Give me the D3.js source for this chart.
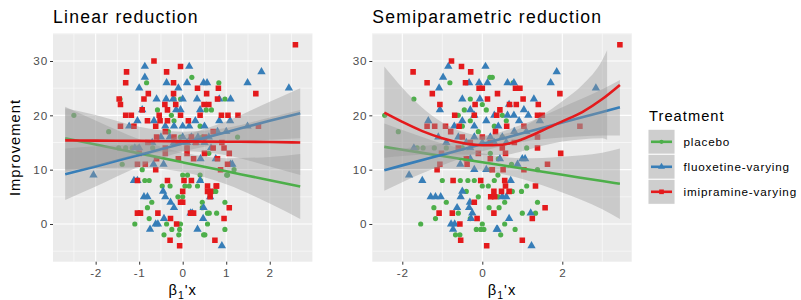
<!DOCTYPE html>
<html>
<head>
<meta charset="utf-8">
<script src="https://cdn.jsdelivr.net/npm/d3@7"></script>
<style>
  body { margin: 0; background: #fff; }
  text { font-family: "Liberation Sans", Arial, Helvetica, sans-serif; letter-spacing: 0.07em; }
</style>
</head>
<body>
<div id="chart"></div>
<script>
// treatment groups and Set1 colours
const groups = ["placebo", "fluoxetine-varying", "imipramine-varying"];
const groupColors = ["#4DAF4A", "#377EB8", "#E41A1C"];

// tick labels
const yTicks = [0, 10, 20, 30];
const yMinor = [-5, 5, 15, 25, 35];
const linTicks = [-2, -1, 0, 1, 2];
const linMinor = [-2.5, -1.5, -0.5, 0.5, 1.5, 2.5];
const semiTicks = [-2, 0, 2];
const semiMinor = [-1, 1, 3];

// ---- linear reduction: points [beta1'x, improvement]
const placeboLin = [
  [-2.5,20],[-1.7,17],[-1.44,23],[-1.13,18],[-0.83,26],[0.83,26],[0.21,27],[-0.05,23],[-0.2,23],[0.97,23],
  [0.66,21],[-0.58,21],[0.54,21],[-0.26,20],[-0.2,19],[0.4,18],[-0.33,17],[1.26,16],[-0.05,16],[0.45,16],
  [-1.47,14],[-1.31,14],[-1.16,14],[-1.03,14],[-0.69,14],[0.1,14],[0.6,13],
  [-1.39,11],[-0.93,10],[-0.87,8],[-0.77,8],[-0.47,7],[-0.29,7],[0,9],[0.11,9],[0.4,9],[0.05,7],[0.15,7],
  [0.34,7],[0.41,8],[0.76,6],[0.69,6],[-0.11,5],[0,5],[-0.71,4],[-0.81,3],[-0.77,1],[-1.1,0],[-0.37,0],
  [-0.05,0],[-0.25,-1],[-0.07,-1],[-0.43,-2],[-0.09,-2],[0.45,3],[0.45,4],[0.57,2],[0.78,2],[0.61,2],
  [0.48,-2],[0.97,-1],[0.97,4],[1.03,9],[1.18,10],[1.01,9],[0.51,-2],[0.57,0]
];
const fluoxLin = [
  [-0.87,29],[0.15,29],[-0.87,27],[0.1,26],[-0.37,26],[0.48,26],[0.56,26],[-1.0,25],[-0.1,25],[1.49,26],
  [1.81,28],[2.44,25],[-0.6,23],[-0.38,23],[-0.22,23],[0.0,23],[0.33,23],[0.84,23],[1.1,23],[-0.15,21],
  [-0.05,21],[0.4,21],[-0.93,21],[-1.04,19],[-0.66,19],[0.29,19],[0.84,19],[1.09,19],[-1.23,18],[1.49,18],
  [-0.4,18],[-0.2,18],[0.0,18],[0.15,18],[0.5,18],[-0.5,16],[-0.3,16],[0.0,16],[0.2,16],[0.35,16],
  [0.6,16],[0.8,17],[1.0,17],[-0.7,15],[-0.2,15],[0.1,15],[0.3,15],[0.5,15],[-1.1,14],[-1.0,14],[0.65,14],
  [-2.05,9],[-1.12,8],[-1.04,8],[-0.67,11],[-0.44,11],[0.41,12],[1.1,11],[0.76,12],[1.14,11],
  [-0.89,5],[-0.81,5],[-0.45,6],[-0.4,5],[-0.28,4],[-0.2,3],[-0.75,-1],[-0.62,0],[-0.57,0],[-0.43,1],
  [0.18,2],[0.22,2],[0.34,-1],[0.47,1],[0.48,3],[0.4,8],[0.63,5],[0.9,-4]
];
const imipLin = [
  [-0.66,30],[-1.29,28],[-0.37,28],[-0.05,29],[-1.31,26],[-0.21,26],[0.34,25],[-0.79,24],[-0.21,24],[0.55,24],
  [-0.89,23],[-1.43,22],[-1.46,23],[-0.41,22],[-0.16,22],[0.49,22],[0.6,22],[0.8,23],[-0.93,21],[-0.35,21],
  [-1.18,20],[-1.31,20],[-0.54,20],[-0.05,20],[0.4,20],[0.13,19],[-0.81,19],[-1.43,18],[-1.12,18],[-0.62,18],
  [-0.52,19],[-0.35,19],[2.59,33],[1.68,24],[0.82,25],[1.27,20],[1.04,20],[0.89,20],[1.74,18],
  [-0.4,17],[-0.6,16],[-0.2,16],[0.2,16],[0.5,16],[0.7,17],[-0.8,15],[-0.1,15],[0.3,15],[0.9,15],
  [-0.4,14],[0.1,14],[0.7,14],[0.95,14],[1.07,13],[-1.0,13],[-0.4,13],[0.1,13],[0.5,13],[0.8,12],
  [-0.6,12],[-0.1,12],[0.25,12],[1.03,11],[0.87,10],[-1.04,11],[-0.86,11],[-0.62,10],[-1.04,8],[-0.35,8],
  [0.03,8],[0.2,8],[0,6],[-0.05,4],[0,4],[0.57,7],[0.64,6],[0.57,6],[0.78,7],[0.63,5],[0.77,7],
  [-1.04,2],[-0.97,2],[-0.57,2],[-0.28,1],[-0.14,0],[-0.29,-3],[-0.07,-4],[0.18,2],[0.25,2],[0.74,-3],
  [0.95,1],[1.07,3]
];

// linear fits with confidence bands
const linFitX = [-2.7, -2, -1, 0, 1, 2, 2.7];
const placeboLinFit = [15.8, 14.65, 13.0, 11.35, 9.7, 8.05, 6.9];
const placeboLinLo = [10.0, 10.25, 10.4, 9.55, 7.3, 3.75, 0.9];
const placeboLinHi = [21.6, 19.05, 15.6, 13.15, 12.1, 12.35, 12.9];
const fluoxLinFit = [9.15, 10.6, 12.7, 14.8, 16.9, 19.0, 20.4];
const fluoxLinLo = [4.4, 6.9, 10.6, 13.3, 14.9, 15.5, 15.8];
const fluoxLinHi = [13.9, 14.3, 14.8, 16.3, 18.9, 22.5, 25.0];
const imipLinFit = [15.4, 15.35, 15.3, 15.2, 15.15, 15.1, 15.0];
const imipLinLo = [9.6, 10.65, 12.7, 13.4, 12.65, 10.6, 9.0];
const imipLinHi = [21.3, 20.05, 17.9, 17.0, 17.65, 19.6, 21.0];

// ---- semiparametric reduction: points [beta1'x, improvement]
const placeboSemi = [
  [-2.44,20],[-1.71,23],[-2.1,17],[-0.81,26],[0.19,27],[0.77,26],[0.25,27],[-0.3,23],[0.0,22],[-0.45,21],
  [0.1,21],[0.5,20],[-0.6,20],[-0.3,19],[0.6,19],[-0.5,18],[0.3,18],[-0.1,17],[0.5,16],[1.11,14],
  [-1.63,14],[-1.48,14],[-1.2,14],[-0.9,14],[-0.5,14],[0.2,13],[0.4,12],
  [0.73,11],[1.38,10],[0.39,9],[-0.36,8],[-1.0,8],[-0.55,8],[-0.2,8],[0.0,7],[0.15,7],[0.3,8],[1.11,7],
  [0.98,6],[0.75,6],[0.4,5],[-0.1,5],[-1.21,3],[-1.17,1],[-1.54,0],[-0.67,-2],[-0.56,-2],[-0.04,-1],
  [0.04,-1],[0.0,0],[0.17,3],[0.56,4],[0.42,3],[1.38,4],[1.0,2],[1.33,2],[0.82,-1],[0.46,-2],[0.56,0],
  [-0.6,2],[-0.3,1],[-0.15,-1],[-0.9,4],[-0.4,6],[0.2,10]
];
const fluoxSemi = [
  [-0.85,29],[0.08,29],[-0.98,27],[-0.33,26],[-0.08,26],[0.13,26],[0.63,26],[0.79,26],[1.71,26],[1.86,28],
  [2.84,25],[-1.08,25],[-0.5,23],[-0.06,23],[1.29,23],[0.67,22],[-1.06,21],[-0.3,21],[1.04,21],[1.15,20],
  [0.63,20],[0.79,20],[-0.2,20],[0.3,20],[-1.35,19],[-0.5,19],[0.1,19],[0.92,19],[1.44,19],[-0.7,18],
  [-0.2,18],[0.4,18],[-1.1,16],[-0.6,16],[-0.2,16],[0.2,16],[0.5,16],[0.8,17],[1.1,17],[-0.9,15],
  [-0.4,15],[0.0,15],[0.3,15],[0.6,15],[-1.71,14],[-0.3,14],
  [-1.83,9],[-1.5,8],[-0.55,11],[-0.3,12],[0.44,12],[1.0,12],[1.07,12],[0.88,11],[0.71,8],[-0.2,10],[0.1,10],
  [-1.29,5],[-1.17,5],[-1.04,5],[-0.54,5],[-0.5,6],[-0.31,4],[-0.63,3],[-0.33,3],[-0.25,2],[-0.28,1],
  [-0.78,0],[-0.69,0],[-0.73,-1],[0.38,-1],[0.67,1],[1.21,2],[0.36,-1],[1.23,-4],[0.5,5],[0.6,5]
];
const imipSemi = [
  [-0.77,30],[-1.73,28],[-0.52,29],[-0.29,28],[-1.38,26],[-0.42,26],[-1.25,24],[0.0,25],[-0.08,25],[0.83,25],
  [0.94,25],[1.94,24],[0.38,24],[1.02,23],[0.13,23],[-1.06,22],[-0.18,22],[1.4,22],[0.68,22],[0.85,22],
  [0.44,21],[-0.69,20],[0.36,20],[1.38,20],[1.5,20],[-0.2,20],[-1.38,18],[-1.19,18],[-0.92,18],[-0.58,18],
  [0.61,18],[1.04,18],[2.44,18],[3.44,33],[-0.79,17],[0.33,17],[-0.5,16],[0.0,16],[1.38,16],[-0.3,15],
  [0.2,15],[0.8,15],[0.5,14],[1.38,14],[-0.6,14],[-1.02,13],[1.96,13],[0.58,13],[-0.1,13],[-0.4,12],[0.2,12],
  [-1.06,11],[-1.13,10],[-0.38,11],[1.63,11],[0.25,10],[0.52,10],[1.04,10],[-0.73,8],[-0.04,8],[0.56,8],
  [1.33,7],[0.29,6],[0.48,6],[0.67,6],[0.58,7],[0.21,5],[0.31,5],[0.29,2],[1.57,3],[1.25,1],[1.0,-3],
  [-1.08,2],[-0.75,2],[-0.13,1],[-0.56,0],[0.11,-4],[-0.54,-3],[-0.2,4]
];

// semiparametric fits with confidence bands
const semiFitX = [-2.45, -2, -1, 0, 1, 2, 3, 3.44];
const placeboSemiFit = [14.2, 13.68, 12.52, 11.37, 10.21, 9.06, 7.9, 7.4];
const placeboSemiLo = [9.9, 10.1, 10.2, 9.8, 8.3, 5.8, 2.7, 0.9];
const placeboSemiHi = [18.5, 17.3, 14.8, 13.0, 12.1, 12.4, 13.1, 13.9];
const fluoxSemiFit = [9.9, 10.79, 12.76, 14.73, 16.7, 18.67, 20.63, 21.5];
const fluoxSemiLo = [6.1, 7.7, 10.8, 13.4, 15.1, 15.9, 16.3, 16.3];
const fluoxSemiHi = [13.7, 13.9, 14.8, 16.0, 18.3, 21.5, 24.8, 26.5];
const imipCurveX = [-2.45, -2, -1.5, -1, -0.5, 0, 0.5, 1, 1.5, 2, 2.5, 3, 3.44];
const imipSemiFit = [20.5, 18.8, 17.1, 15.8, 14.9, 14.5, 14.6, 15.6, 17.2, 18.9, 20.6, 23.0, 25.6];
const imipBandX = [-2.45, -2, -1.5, -1, -0.5, 0, 0.5, 1, 1.5, 2, 2.5, 3, 3.12];
const imipSemiLo = [12.2, 12.5, 12.8, 12.9, 12.8, 12.7, 12.7, 13.4, 14.4, 15.2, 15.6, 15.8, 15.5];
const imipSemiHi = [29.0, 25.1, 21.4, 18.7, 17.0, 16.3, 16.5, 17.8, 20.0, 22.6, 25.6, 30.2, 32.0];

// layout
const WIDTH = 801, HEIGHT = 300;
const PANEL_W = 259.4, PANEL_TOP = 33.3, PANEL_BOTTOM = 261.7;
const Y_DOMAIN = [-6.94, 35.1];
const BG = "#EBEBEB";

const shapes = [d3.symbolCircle, d3.symbolTriangle, d3.symbolSquare];
const shapeSizes = [21, 30, 31];

const svg = d3.select("#chart").append("svg")
  .attr("width", WIDTH)
  .attr("height", HEIGHT);

function toRows(xs, mid, lo, hi) {
  return xs.map((x, i) => ({x: x, mid: mid ? mid[i] : null, lo: lo ? lo[i] : null, hi: hi ? hi[i] : null}));
}

function drawPanel(p) {
  const x = d3.scaleLinear().domain(p.xDomain).range([p.left, p.left + PANEL_W]);
  const y = d3.scaleLinear().domain(Y_DOMAIN).range([PANEL_BOTTOM, PANEL_TOP]);
  const g = svg.append("g");

  g.append("clipPath").attr("id", p.id + "-clip")
    .append("rect")
    .attr("x", p.left).attr("y", PANEL_TOP)
    .attr("width", PANEL_W).attr("height", PANEL_BOTTOM - PANEL_TOP);

  g.append("rect")
    .attr("x", p.left).attr("y", PANEL_TOP)
    .attr("width", PANEL_W).attr("height", PANEL_BOTTOM - PANEL_TOP)
    .attr("fill", BG);

  const plot = g.append("g").attr("clip-path", `url(#${p.id}-clip)`);

  // grid lines, minor then major
  plot.selectAll(".ymin").data(yMinor).enter().append("line")
    .attr("x1", p.left).attr("x2", p.left + PANEL_W)
    .attr("y1", d => y(d)).attr("y2", d => y(d))
    .attr("stroke", "#fff").attr("stroke-width", 0.55);
  plot.selectAll(".xmin").data(p.minor).enter().append("line")
    .attr("y1", PANEL_TOP).attr("y2", PANEL_BOTTOM)
    .attr("x1", d => x(d)).attr("x2", d => x(d))
    .attr("stroke", "#fff").attr("stroke-width", 0.55);
  plot.selectAll(".ymaj").data(yTicks).enter().append("line")
    .attr("x1", p.left).attr("x2", p.left + PANEL_W)
    .attr("y1", d => y(d)).attr("y2", d => y(d))
    .attr("stroke", "#fff").attr("stroke-width", 1.1);
  plot.selectAll(".xmaj").data(p.ticks).enter().append("line")
    .attr("y1", PANEL_TOP).attr("y2", PANEL_BOTTOM)
    .attr("x1", d => x(d)).attr("x2", d => x(d))
    .attr("stroke", "#fff").attr("stroke-width", 1.1);

  // points
  p.points.forEach((pts, i) => {
    plot.append("g").selectAll("path")
      .data(pts)
      .enter()
      .append("path")
        .attr("d", d3.symbol().type(shapes[i]).size(shapeSizes[i]))
        .attr("transform", d => `translate(${x(d[0])},${y(d[1])})`)
        .attr("fill", groupColors[i]);
  });

  // smooth: ribbon then line for each group
  const area = d3.area()
    .x(d => x(d.x)).y0(d => y(d.lo)).y1(d => y(d.hi))
    .curve(d3.curveMonotoneX);
  const line = d3.line()
    .x(d => x(d.x)).y(d => y(d.mid))
    .curve(d3.curveMonotoneX);
  p.fits.forEach((f, i) => {
    plot.append("path")
      .attr("d", area(f.band))
      .attr("fill", "#999999")
      .attr("fill-opacity", 0.4);
    plot.append("path")
      .attr("d", line(f.line))
      .attr("fill", "none")
      .attr("stroke", groupColors[i])
      .attr("stroke-width", 2.6);
  });

  // axes
  const yAxis = g.append("g")
    .attr("transform", `translate(${p.left},0)`)
    .call(d3.axisLeft(y).tickValues(yTicks).tickSize(3).tickPadding(2).tickFormat(d => String(d)));
  const xAxis = g.append("g")
    .attr("transform", `translate(0,${PANEL_BOTTOM})`)
    .call(d3.axisBottom(x).tickValues(p.ticks).tickSize(3).tickPadding(4.5).tickFormat(d => String(d)));
  [yAxis, xAxis].forEach(a => {
    a.select(".domain").remove();
    a.selectAll("line").attr("stroke", "#333333").attr("stroke-width", 1);
    a.selectAll("text")
      .attr("fill", "#4D4D4D")
      .attr("font-size", 11.7)
      .attr("font-family", '"Liberation Sans", Arial, sans-serif');
  });

  // panel title
  g.append("text")
    .attr("x", p.left).attr("y", 23)
    .attr("font-size", 17.6)
    .attr("fill", "#000")
    .text(p.title);

  // x axis title
  const xt = g.append("text")
    .attr("x", p.left + PANEL_W / 2).attr("y", 295)
    .attr("text-anchor", "middle")
    .attr("font-size", 14.7)
    .attr("fill", "#000");
  xt.append("tspan").text("β");
  xt.append("tspan").attr("font-size", 10.5).attr("dy", 3.5).text("1");
  xt.append("tspan").attr("dy", -3.5).text("'x");
}

drawPanel({
  id: "lin",
  left: 53,
  xDomain: [-2.98, 2.98],
  ticks: linTicks,
  minor: linMinor,
  title: "Linear reduction",
  points: [placeboLin, fluoxLin, imipLin],
  fits: [
    {band: toRows(linFitX, null, placeboLinLo, placeboLinHi), line: toRows(linFitX, placeboLinFit)},
    {band: toRows(linFitX, null, fluoxLinLo, fluoxLinHi), line: toRows(linFitX, fluoxLinFit)},
    {band: toRows(linFitX, null, imipLinLo, imipLinHi), line: toRows(linFitX, imipLinFit)}
  ]
});

drawPanel({
  id: "semi",
  left: 372.3,
  xDomain: [-2.75, 3.735],
  ticks: semiTicks,
  minor: semiMinor,
  title: "Semiparametric reduction",
  points: [placeboSemi, fluoxSemi, imipSemi],
  fits: [
    {band: toRows(semiFitX, null, placeboSemiLo, placeboSemiHi), line: toRows(semiFitX, placeboSemiFit)},
    {band: toRows(semiFitX, null, fluoxSemiLo, fluoxSemiHi), line: toRows(semiFitX, fluoxSemiFit)},
    {band: toRows(imipBandX, null, imipSemiLo, imipSemiHi), line: toRows(imipCurveX, imipSemiFit)}
  ]
});

// y axis title (shared)
svg.append("text")
  .attr("transform", "translate(15,147.5) rotate(-90)")
  .attr("text-anchor", "middle")
  .attr("dy", "0.35em")
  .attr("font-size", 14.7)
  .attr("fill", "#000")
  .text("Improvement");

// legend
const legend = svg.append("g").attr("transform", "translate(648,0)");
legend.append("text")
  .attr("x", 1).attr("y", 121)
  .attr("font-size", 14.7)
  .attr("fill", "#000")
  .text("Treatment");

const KEY_W = 27, KEY_H = 25, KEY_TOP = 129.3;
const keys = legend.selectAll(".key")
  .data(groups)
  .enter()
  .append("g")
    .attr("transform", (d, i) => `translate(0,${KEY_TOP + i * KEY_H})`);
keys.append("rect")
  .attr("width", KEY_W).attr("height", KEY_H)
  .attr("fill", "#F2F2F2").attr("stroke", "#fff").attr("stroke-width", 1);
keys.append("rect")
  .attr("x", 0.5).attr("y", 0.5)
  .attr("width", KEY_W - 1).attr("height", KEY_H - 1)
  .attr("fill", "#999999").attr("fill-opacity", 0.4);
keys.append("line")
  .attr("x1", 3).attr("x2", KEY_W - 3)
  .attr("y1", KEY_H / 2).attr("y2", KEY_H / 2)
  .attr("stroke", (d, i) => groupColors[i])
  .attr("stroke-width", 2.6);
keys.append("path")
  .attr("d", (d, i) => d3.symbol().type(shapes[i]).size(shapeSizes[i] * 0.7)())
  .attr("transform", `translate(${KEY_W / 2},${KEY_H / 2})`)
  .attr("fill", (d, i) => groupColors[i]);
keys.append("text")
  .attr("x", 35.5).attr("y", KEY_H / 2)
  .attr("dy", "0.35em")
  .attr("font-size", 11.7)
  .attr("fill", "#000")
  .text(d => d);
</script>
</body>
</html>
